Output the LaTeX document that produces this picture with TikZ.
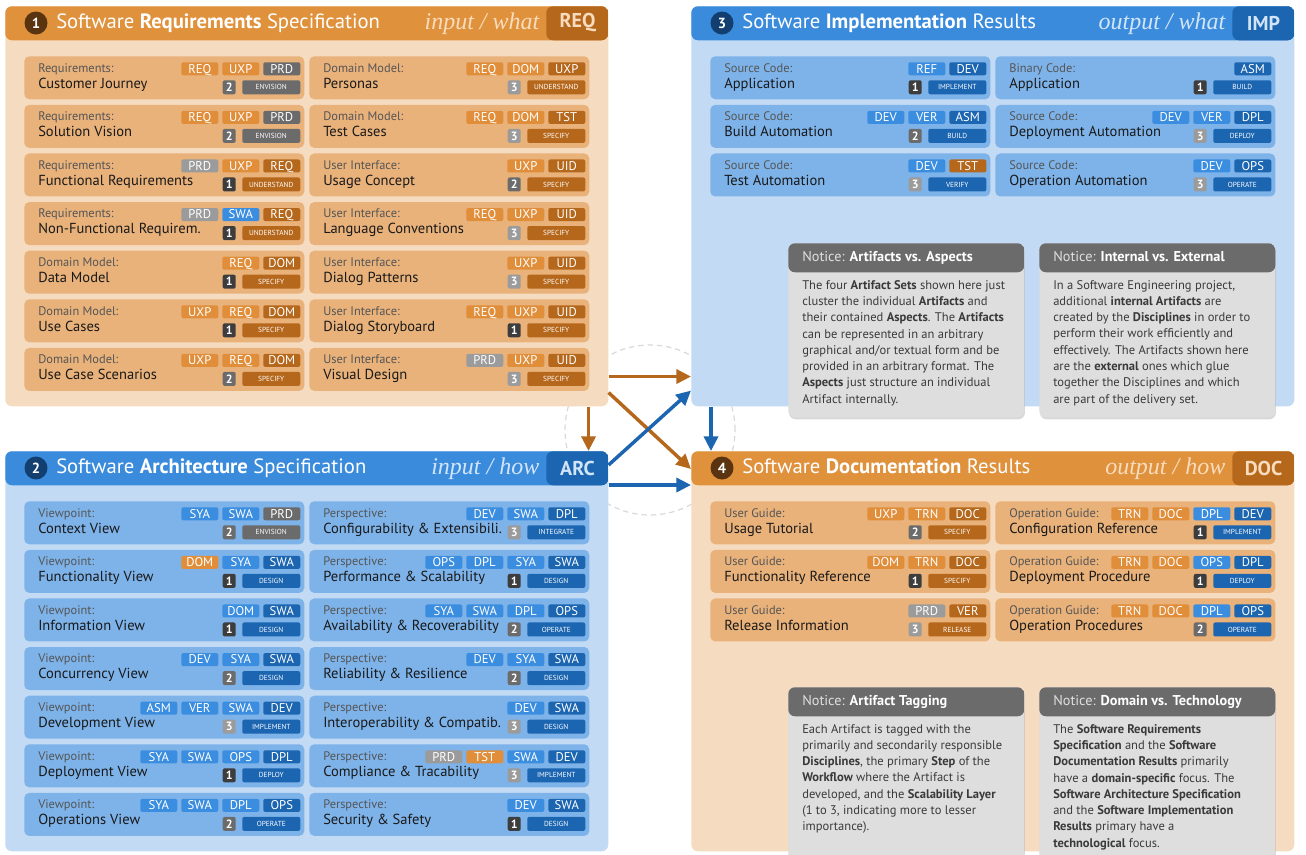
\documentclass[tikz,border=0pt]{standalone}
\usepackage{fontspec}
\setmainfont{PT Sans}
\newfontfamily\headserif{Liberation Serif}
\usetikzlibrary{calc,arrows.meta,shadows}

\definecolor{orHead}{HTML}{E0913C}
\definecolor{orDark}{HTML}{B5671B}
\definecolor{orBody}{HTML}{F5DCC0}
\definecolor{orCard}{HTML}{E9B27B}
\definecolor{orLight}{HTML}{E08E3A}
\definecolor{orNum}{HTML}{5A3411}
\definecolor{orItal}{HTML}{F8DCBD}
\definecolor{blHead}{HTML}{3A8BDC}
\definecolor{blDark}{HTML}{1B65B1}
\definecolor{blBody}{HTML}{C2DAF3}
\definecolor{blCard}{HTML}{7EB3EA}
\definecolor{blLight}{HTML}{3B8DE0}
\definecolor{blNum}{HTML}{123F6F}
\definecolor{blItal}{HTML}{D2E5F8}
\definecolor{gyL1}{HTML}{3D3D3D}
\definecolor{gyL2}{HTML}{6B6B6B}
\definecolor{gyL3}{HTML}{9B9B9B}
\definecolor{noteHead}{HTML}{6B6B6B}
\definecolor{noteBody}{HTML}{DEDEDE}
\definecolor{noteText}{HTML}{3A3A3A}
\definecolor{catText}{HTML}{555555}

\begin{document}
\begin{tikzpicture}[
    x=0.75pt, y=-0.75pt,
    >={Triangle[length=11pt,width=10.5pt]},
    panel/.style n args={3}{%
      fill=#1, rounded corners=5pt, anchor=north west, inner sep=0pt,
      minimum width=452.25pt, minimum height=300pt,
      path picture={%
        \fill[#2] (path picture bounding box.north west) rectangle ([yshift=-25.5pt]path picture bounding box.north east);
        \fill[#3] ([xshift=-46.5pt]path picture bounding box.north east) rectangle ([yshift=-25.5pt]path picture bounding box.north east);}},
    hnum/.style={circle, inner sep=0pt, minimum size=17.25pt, text=white, font=\fontsize{11}{11}\selectfont\bfseries},
    htitle/.style={inner sep=0pt, text=white, font=\fontsize{15.5}{17}\selectfont},
    hio/.style={inner sep=0pt, font=\headserif\itshape\fontsize{18}{20}\selectfont},
    hlbl/.style={inner sep=0pt, font=\fontsize{15}{17}\selectfont\bfseries},
    card/.style={anchor=north west, inner sep=0pt, minimum width=210pt, minimum height=32.25pt, rounded corners=3.75pt},
    card-req/.style={fill=orCard}, card-doc/.style={fill=orCard},
    card-arc/.style={fill=blCard}, card-imp/.style={fill=blCard},
    cat/.style={inner sep=0pt, text=catText, font=\fontsize{9.3}{10}\selectfont},
    ttl/.style={inner sep=0pt, text=black!90, font=\fontsize{10.9}{13}\selectfont},
    tag/.style={anchor=north east, inner sep=0pt, minimum width=27.75pt, minimum height=9.75pt,
      text height=6.6pt, text depth=0pt, rounded corners=1.5pt, text=white, font=\fontsize{9.5}{9.5}\selectfont},
    tag-ol/.style={fill=orLight}, tag-od/.style={fill=orDark},
    tag-bl/.style={fill=blLight}, tag-bd/.style={fill=blDark},
    tag-gl/.style={fill=gyL3}, tag-gd/.style={fill=gyL2},
    stepbox/.style={anchor=north east, inner sep=0pt, minimum width=43.5pt, minimum height=10.5pt,
      text height=3.9pt, text depth=0pt, rounded corners=1.5pt, text=white, font=\fontsize{5.5}{5.5}\selectfont},
    layer/.style={anchor=north east, inner sep=0pt, minimum width=9.75pt, minimum height=10.5pt,
      text height=6.3pt, text depth=0pt, rounded corners=1.5pt, text=white, font=\fontsize{9}{9}\selectfont\bfseries},
    layer-1/.style={fill=gyL1}, layer-2/.style={fill=gyL2}, layer-3/.style={fill=gyL3},
    note/.style={anchor=north west, inner sep=0pt, fill=noteBody, rounded corners=5pt, minimum width=177pt,
      drop shadow={shadow xshift=0.5pt, shadow yshift=-1.5pt, opacity=0.3},
      path picture={\fill[noteHead] (path picture bounding box.north west) rectangle ([yshift=-21.75pt]path picture bounding box.north east);}},
    notehead/.style={anchor=base west, inner sep=0pt, text=white!88!black, font=\fontsize{10.7}{12}\selectfont},
    notebody/.style={anchor=north west, inner sep=0pt, align=left, text=noteText, font=\fontsize{9.4}{12.2}\selectfont},
    flowO/.style={->, draw=orDark, line width=2.6pt},
    flowB/.style={->, draw=blDark, line width=2.6pt}
  ]
    \useasboundingbox (0,0) rectangle (1306,854);
    \clip (0,0) rectangle (1306,854);
    \fill[white] (0,0) rectangle (1306,854);

    % ring behind the four sets
    \draw[gray!30, line width=0.9pt, dash pattern=on 4pt off 3pt] (650,430) circle[radius=63.75pt];

    % the four artifact sets
    \node[panel={orBody}{orHead}{orDark}] (req) at (5,6) {};
    \node[panel={blBody}{blHead}{blDark}] (arc) at (5,451) {};
    \node[panel={blBody}{blHead}{blDark}] (imp) at (691,6) {};
    \node[panel={orBody}{orHead}{orDark}] (doc) at (691,451) {};

    \foreach \p/\n/\ttl/\io/\lbl/\numc/\itc in {%
      req/1/{Software \textbf{Requirements} Specification}/{input / what}/REQ/orNum/orItal,
      arc/2/{Software \textbf{Architecture} Specification}/{input / how}/ARC/blNum/blItal,
      imp/3/{Software \textbf{Implementation} Results}/{output / what}/IMP/blNum/blItal,
      doc/4/{Software \textbf{Documentation} Results}/{output / how}/DOC/orNum/orItal} {
      \node[hnum, fill=\numc] (\p-num) at ($(\p.north west)+(31,17)$) {\n};
      \node[htitle, anchor=base west] (\p-title) at ($(\p.north west)+(51,22.5)$) {\ttl};
      \node[hio, text=\itc, anchor=base east] (\p-io) at ($(\p.north east)+(-69,23)$) {\io};
      \node[hlbl, text=\itc] (\p-lbl) at ($(\p.north east)+(-31,17)$) {\lbl};
    }

    % artifacts: panel/column/row/category/title/disciplines/layer/step
    \foreach \p/\c/\r/\cat/\ttl/\tags/\lay/\sc/\st in {%
      req/1/1/Requirements:/Customer Journey/{ol/REQ,ol/UXP,gd/PRD}/2/gd/ENVISION,
      req/1/2/Requirements:/Solution Vision/{ol/REQ,ol/UXP,gd/PRD}/2/gd/ENVISION,
      req/1/3/Requirements:/Functional Requirements/{gl/PRD,ol/UXP,od/REQ}/1/od/UNDERSTAND,
      req/1/4/Requirements:/Non-Functional Requirem./{gl/PRD,bl/SWA,od/REQ}/1/od/UNDERSTAND,
      req/1/5/Domain Model:/Data Model/{ol/REQ,od/DOM}/1/od/SPECIFY,
      req/1/6/Domain Model:/Use Cases/{ol/UXP,ol/REQ,od/DOM}/1/od/SPECIFY,
      req/1/7/Domain Model:/Use Case Scenarios/{ol/UXP,ol/REQ,od/DOM}/2/od/SPECIFY,
      req/2/1/Domain Model:/Personas/{ol/REQ,ol/DOM,od/UXP}/3/od/UNDERSTAND,
      req/2/2/Domain Model:/Test Cases/{ol/REQ,ol/DOM,od/TST}/3/od/SPECIFY,
      req/2/3/User Interface:/Usage Concept/{ol/UXP,od/UID}/2/od/SPECIFY,
      req/2/4/User Interface:/Language Conventions/{ol/REQ,ol/UXP,od/UID}/3/od/SPECIFY,
      req/2/5/User Interface:/Dialog Patterns/{ol/UXP,od/UID}/3/od/SPECIFY,
      req/2/6/User Interface:/Dialog Storyboard/{ol/REQ,ol/UXP,od/UID}/1/od/SPECIFY,
      req/2/7/User Interface:/Visual Design/{gl/PRD,ol/UXP,od/UID}/3/od/SPECIFY,
      arc/1/1/Viewpoint:/Context View/{bl/SYA,bl/SWA,gd/PRD}/2/gd/ENVISION,
      arc/1/2/Viewpoint:/Functionality View/{ol/DOM,bl/SYA,bd/SWA}/1/bd/DESIGN,
      arc/1/3/Viewpoint:/Information View/{bl/DOM,bd/SWA}/1/bd/DESIGN,
      arc/1/4/Viewpoint:/Concurrency View/{bl/DEV,bl/SYA,bd/SWA}/2/bd/DESIGN,
      arc/1/5/Viewpoint:/Development View/{bl/ASM,bl/VER,bl/SWA,bd/DEV}/3/bd/IMPLEMENT,
      arc/1/6/Viewpoint:/Deployment View/{bl/SYA,bl/SWA,bl/OPS,bd/DPL}/1/bd/DEPLOY,
      arc/1/7/Viewpoint:/Operations View/{bl/SYA,bl/SWA,bl/DPL,bd/OPS}/2/bd/OPERATE,
      arc/2/1/Perspective:/Configurability \& Extensibili./{bl/DEV,bl/SWA,bd/DPL}/3/bd/INTEGRATE,
      arc/2/2/Perspective:/Performance \& Scalability/{bl/OPS,bl/DPL,bl/SYA,bd/SWA}/1/bd/DESIGN,
      arc/2/3/Perspective:/Availability \& Recoverability/{bl/SYA,bl/SWA,bl/DPL,bd/OPS}/2/bd/OPERATE,
      arc/2/4/Perspective:/Reliability \& Resilience/{bl/DEV,bl/SYA,bd/SWA}/2/bd/DESIGN,
      arc/2/5/Perspective:/Interoperability \& Compatib./{bl/DEV,bd/SWA}/3/bd/DESIGN,
      arc/2/6/Perspective:/Compliance \& Tracability/{gl/PRD,ol/TST,bl/SWA,bd/DEV}/3/bd/IMPLEMENT,
      arc/2/7/Perspective:/Security \& Safety/{bl/DEV,bd/SWA}/1/bd/DESIGN,
      imp/1/1/Source Code:/Application/{bl/REF,bd/DEV}/1/bd/IMPLEMENT,
      imp/1/2/Source Code:/Build Automation/{bl/DEV,bl/VER,bd/ASM}/2/bd/BUILD,
      imp/1/3/Source Code:/Test Automation/{bl/DEV,od/TST}/3/bd/VERIFY,
      imp/2/1/Binary Code:/Application/{bd/ASM}/1/bd/BUILD,
      imp/2/2/Source Code:/Deployment Automation/{bl/DEV,bl/VER,bd/DPL}/3/bd/DEPLOY,
      imp/2/3/Source Code:/Operation Automation/{bl/DEV,bd/OPS}/3/bd/OPERATE,
      doc/1/1/User Guide:/Usage Tutorial/{ol/UXP,ol/TRN,od/DOC}/2/od/SPECIFY,
      doc/1/2/User Guide:/Functionality Reference/{ol/DOM,ol/TRN,od/DOC}/1/od/SPECIFY,
      doc/1/3/User Guide:/Release Information/{gl/PRD,od/VER}/3/od/RELEASE,
      doc/2/1/Operation Guide:/Configuration Reference/{ol/TRN,ol/DOC,bl/DPL,bd/DEV}/1/bd/IMPLEMENT,
      doc/2/2/Operation Guide:/Deployment Procedure/{ol/TRN,ol/DOC,bl/OPS,bd/DPL}/1/bd/DEPLOY,
      doc/2/3/Operation Guide:/Operation Procedures/{ol/TRN,ol/DOC,bl/DPL,bd/OPS}/2/bd/OPERATE} {
      \node[card, card-\p] (\p-\c-\r) at ($(\p.north west)+({19+(\c-1)*285},{50+(\r-1)*48.6})$) {};
      \node[cat, anchor=base west] (\p-\c-\r-cat) at ($(\p-\c-\r.north west)+(14,16)$) {\cat};
      \node[ttl, anchor=base west] (\p-\c-\r-ttl) at ($(\p-\c-\r.north west)+(14,32)$) {\ttl};
      \foreach \tn [count=\k] in \tags {\xdef\ntags{\k}};
      \foreach \tc/\tn [count=\k] in \tags {
        \node[tag, tag-\tc] (\p-\c-\r-t\k) at ($(\p-\c-\r.north east)+({-4-(\ntags-\k)*41},6)$) {\tn};
      }
      \node[stepbox, tag-\sc] (\p-\c-\r-s) at ($(\p-\c-\r.north east)+(-4,24)$) {\st};
      \node[layer, layer-\lay] (\p-\c-\r-l) at ($(\p-\c-\r-s.north west)+(-6,0)$) {\lay};
    }

    % flows between the sets
    \draw[flowO] ($(req.south east)+(0,-30)$) -- ($(imp.south west)+(0,-30)$);
    \draw[flowO] ($(req.south east)+(-20,0)$) -- ($(arc.north east)+(-20,0)$);
    \draw[flowO] ($(req.south east)+(0,-14)$) -- ($(doc.north west)+(0,18)$);
    \draw[flowB] ($(arc.north east)+(0,14)$) -- ($(imp.south west)+(0,-16)$);
    \draw[flowB] ($(arc.north east)+(0,34)$) -- ($(doc.north west)+(0,34)$);
    \draw[flowB] ($(imp.south west)+(20,0)$) -- ($(doc.north west)+(20,0)$);

    % notices
    \node[note, minimum height=130.5pt] (note1) at (788,243) {};
    \node[note, minimum height=130.5pt] (note2) at (1039,243) {};
    \node[note, minimum height=135pt] (note3) at (788,687) {};
    \node[note, minimum height=135pt] (note4) at (1039,687) {};

    \node[notehead] (note1-head) at ($(note1.north west)+(14,18)$) {Notice: \textcolor{white}{\textbf{Artifacts vs. Aspects}}};
    \node[notehead] (note2-head) at ($(note2.north west)+(14,18)$) {Notice: \textcolor{white}{\textbf{Internal vs. External}}};
    \node[notehead] (note3-head) at ($(note3.north west)+(14,18)$) {Notice: \textcolor{white}{\textbf{Artifact Tagging}}};
    \node[notehead] (note4-head) at ($(note4.north west)+(14,18)$) {Notice: \textcolor{white}{\textbf{Domain vs. Technology}}};

    \node[notebody] (note1-body) at ($(note1.north west)+(14,37)$) {%
      The four \textbf{Artifact Sets} shown here just\\
      cluster the individual \textbf{Artifacts} and\\
      their contained \textbf{Aspects}. The \textbf{Artifacts}\\
      can be represented in an arbitrary\\
      graphical and/or textual form and be\\
      provided in an arbitrary format. The\\
      \textbf{Aspects} just structure an individual\\
      Artifact internally.};
    \node[notebody] (note2-body) at ($(note2.north west)+(14,37)$) {%
      In a Software Engineering project,\\
      additional \textbf{internal Artifacts} are\\
      created by the \textbf{Disciplines} in order to\\
      perform their work efficiently and\\
      effectively. The Artifacts shown here\\
      are the \textbf{external} ones which glue\\
      together the Disciplines and which\\
      are part of the delivery set.};
    \node[notebody] (note3-body) at ($(note3.north west)+(14,37)$) {%
      Each Artifact is tagged with the\\
      primarily and secondarily responsible\\
      \textbf{Disciplines}, the primary \textbf{Step} of the\\
      \textbf{Workflow} where the Artifact is\\
      developed, and the \textbf{Scalability Layer}\\
      (1 to 3, indicating more to lesser\\
      importance).};
    \node[notebody] (note4-body) at ($(note4.north west)+(14,37)$) {%
      The \textbf{Software Requirements}\\
      \textbf{Specification} and the \textbf{Software}\\
      \textbf{Documentation Results} primarily\\
      have a \textbf{domain-specific} focus. The\\
      \textbf{Software Architecture Specification}\\
      and the \textbf{Software Implementation}\\
      \textbf{Results} primary have a\\
      \textbf{technological} focus.};
\end{tikzpicture}
\end{document}
